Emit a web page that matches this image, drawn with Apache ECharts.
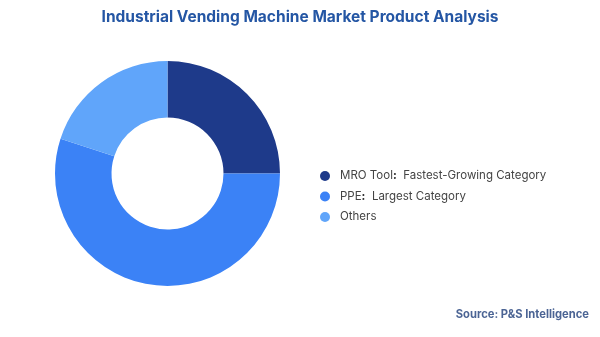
<!DOCTYPE html>
<html><head><meta charset="utf-8">
<script src="https://cdn.jsdelivr.net/npm/echarts@6/dist/echarts.min.js"></script>
<style>html,body{margin:0;padding:0;background:#fff}#c{width:600px;height:337px}</style>
</head><body><div id="c"></div>
<script>
const categories = ["MRO Tool", "PPE", "Others"];
const descriptions = ["Fastest-Growing Category", "Largest Category", ""];
const values = [25, 55, 20];
const colors = ["#1e3a8a", "#3b82f6", "#60a5fa"];

const chart = echarts.init(document.getElementById('c'));
chart.setOption({
  animation: false,
  title: [{
    text: "Industrial Vending Machine Market Product Analysis",
    left: 'center', top: 4,
    textStyle: {fontFamily: 'Inter', fontWeight: 'bold', fontSize: 15.5, color: '#2456a4'}
  }, {
    text: "Source: P&S Intelligence",
    right: 6, top: 304,
    textStyle: {fontFamily: 'Inter', fontWeight: 'bold', fontSize: 11.2, color: '#4b6494'}
  }],
  legend: {
    orient: 'vertical', left: 315, top: 165,
    icon: 'circle', itemWidth: 10, itemHeight: 10, itemGap: 8.5,
    data: categories,
    formatter: function(name){
      const i = categories.indexOf(name);
      return descriptions[i] ? name + '{b|:}  ' + descriptions[i] : name;
    },
    textStyle: {fontFamily: 'Inter', fontSize: 11.5, color: '#444', padding: [0, 0, 0, 5],
      rich: {b: {fontFamily: 'Inter', fontSize: 11.5, color: '#333', fontWeight: 'bold'}}}
  },
  series: [{
    type: 'pie',
    center: [167.5, 173.5],
    radius: [56, 112.5],
    startAngle: 90,
    clockwise: true,
    label: {show: false},
    labelLine: {show: false},
    itemStyle: {borderWidth: 0},
    data: categories.map((n, i) => ({name: n, value: values[i], itemStyle: {color: colors[i]}}))
  }]
});
</script></body></html>
